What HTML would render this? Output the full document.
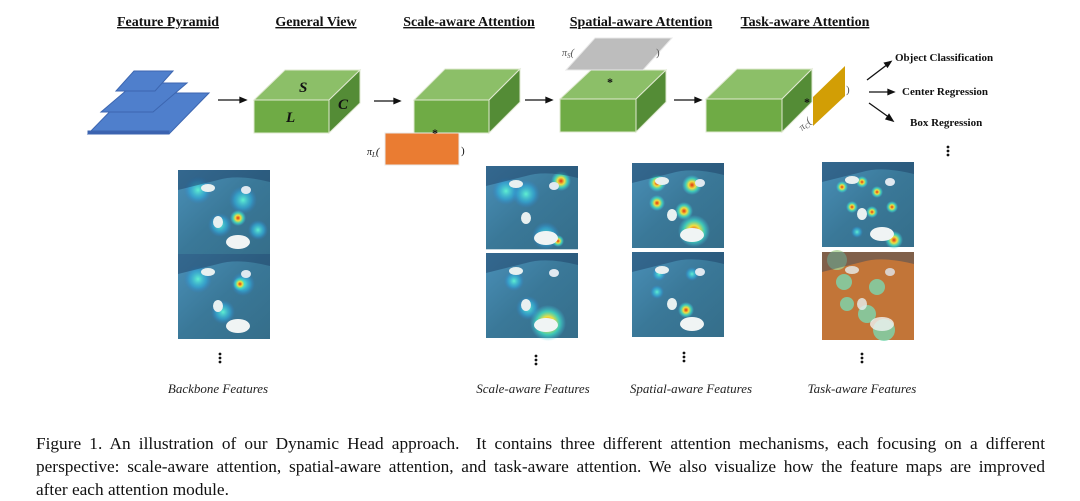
<!DOCTYPE html>
<html><head><meta charset="utf-8"><style>
html,body{margin:0;padding:0;background:#fff;width:1080px;height:500px;overflow:hidden}
svg{position:absolute;left:0;top:0}
.cap{position:absolute;left:36px;top:432px;width:1009px;font-family:"Liberation Serif",serif;font-size:17.3px;line-height:23px;color:#111}
.cap div{text-align:justify;text-align-last:justify;white-space:nowrap}
.cap div.l{text-align-last:left}
</style></head><body>
<svg width="1080" height="430" viewBox="0 0 1080 430" font-family="Liberation Serif, serif">
<defs>
<radialGradient id="hot"><stop offset="0" stop-color="#e03010"/><stop offset="0.35" stop-color="#f0e040"/><stop offset="0.65" stop-color="#40e0c0" stop-opacity="0.8"/><stop offset="1" stop-color="#40c0e0" stop-opacity="0"/></radialGradient>
<radialGradient id="cy"><stop offset="0" stop-color="#60f0d0"/><stop offset="0.6" stop-color="#30b0e0" stop-opacity="0.6"/><stop offset="1" stop-color="#3080d0" stop-opacity="0"/></radialGradient>
<linearGradient id="bg" x1="0" y1="0" x2="1" y2="1"><stop offset="0" stop-color="#4a90b8"/><stop offset="0.5" stop-color="#3a7898"/><stop offset="1" stop-color="#356e8a"/></linearGradient>
<g id="sheep">
<ellipse cx="30" cy="18" rx="7" ry="4" fill="#e8f0f0"/>
<ellipse cx="68" cy="20" rx="5" ry="4" fill="#e0e8f0"/>
<ellipse cx="40" cy="52" rx="5" ry="6" fill="#e8f0f0"/>
<ellipse cx="60" cy="72" rx="12" ry="7" fill="#f0f4f4"/>
<path d="M0 0 L92 0 L92 12 Q60 4 40 10 L0 20Z" fill="#1d3f66" opacity="0.5"/>
</g>
<g id="img"><rect width="92" height="85" fill="url(#bg)"/></g>
</defs>
<g font-weight="bold" font-size="14" text-decoration="underline" fill="#111" text-anchor="middle">
<text x="168" y="26">Feature Pyramid</text>
<text x="316" y="26">General View</text>
<text x="469" y="26">Scale-aware Attention</text>
<text x="641" y="26">Spatial-aware Attention</text>
<text x="805" y="26">Task-aware Attention</text>
</g>
<g fill="#4f7fcc" stroke="#3d66b0" stroke-width="1">
<polygon points="88,134 169,134 209,93 128,93"/>
<rect x="88" y="131" width="81" height="3" fill="#3b62b0"/>
<polygon points="101,112 153,112 187,83 135,83"/>
<polygon points="116,91 155,91 173,71 134,71"/>
</g>
<g stroke="#111" stroke-width="1.3" fill="#111">
<line x1="218" y1="100" x2="243" y2="100"/><polygon points="246,100 240,97.5 240,102.5"/>
<line x1="374" y1="101" x2="397" y2="101"/><polygon points="400,101 394,98.5 394,103.5"/>
<line x1="525" y1="100" x2="549" y2="100"/><polygon points="552,100 546,97.5 546,102.5"/>
<line x1="674" y1="100" x2="698" y2="100"/><polygon points="701,100 695,97.5 695,102.5"/>
<line x1="867" y1="80" x2="888" y2="64"/><polygon points="891,61.5 884.5,63 887.5,67"/>
<line x1="869" y1="92" x2="890" y2="92"/><polygon points="894,92 888,89.5 888,94.5"/>
<line x1="869" y1="103" x2="890" y2="118"/><polygon points="893,121 889,114.5 886,119"/>
</g>
<g stroke="#dfe8d0" stroke-width="1">
<polygon points="254,100 285,70 360,70 329,100" fill="#8cbf68"/>
<rect x="254" y="100" width="75" height="33" fill="#6fab45"/>
<polygon points="329,100 360,70 360,103 329,133" fill="#548c36"/>
<polygon points="414,100 445,69 520,69 489,100" fill="#8cbf68"/>
<rect x="414" y="100" width="75" height="33" fill="#6fab45"/>
<polygon points="489,100 520,69 520,102 489,133" fill="#548c36"/>
<polygon points="560,99 591,70 666,70 636,99" fill="#8cbf68"/>
<rect x="560" y="99" width="76" height="33" fill="#6fab45"/>
<polygon points="636,99 666,70 666,102 636,132" fill="#548c36"/>
<polygon points="706,99 737,69 812,69 782,99" fill="#8cbf68"/>
<rect x="706" y="99" width="76" height="33" fill="#6fab45"/>
<polygon points="782,99 812,69 812,102 782,132" fill="#548c36"/>
</g>
<g font-style="italic" font-weight="bold" font-size="15" fill="#111">
<text x="299" y="92">S</text><text x="286" y="122">L</text><text x="338" y="109">C</text>
</g>
<rect x="385" y="133" width="74" height="32" fill="#ea7c32" stroke="#e8e8e8"/>
<polygon points="566,70 595,38 672,38 643,70" fill="#bdbdbd" stroke="#e8e8e8"/>
<polygon points="813,97 845,66 845,96 813,126" fill="#d29e05"/>
<g fill="#111" font-size="12">
<text x="432" y="137" font-weight="bold">*</text>
<text x="607" y="86" font-weight="bold">*</text>
<text x="804" y="106" font-weight="bold">*</text>
<text x="367" y="155" font-size="10" font-style="italic">π<tspan font-size="7" dy="2">L</tspan><tspan dy="-2" font-size="11">(</tspan></text>
<text x="461" y="154" font-size="11">)</text>
<text x="562" y="56" font-size="10" font-style="italic" fill="#555">π<tspan font-size="7" dy="2">S</tspan><tspan dy="-2" font-size="11">(</tspan></text>
<text x="656" y="56" font-size="11" fill="#555">)</text>
<text x="846" y="93" font-size="11" fill="#555">)</text>
<text transform="translate(802,131) rotate(-40)" font-size="10" font-style="italic" fill="#555">π<tspan font-size="7" dy="2">C</tspan><tspan dy="-2" font-size="11">(</tspan></text>
</g>
<g font-weight="bold" font-size="11" fill="#111">
<text x="895" y="61">Object Classification</text>
<text x="902" y="95">Center Regression</text>
<text x="910" y="126">Box Regression</text>
</g>
<g transform="translate(178,170)"><use href="#img"/>
<circle cx="20" cy="20" r="14" fill="url(#cy)"/><circle cx="65" cy="30" r="14" fill="url(#cy)"/><circle cx="42" cy="55" r="12" fill="url(#cy)"/><circle cx="80" cy="60" r="10" fill="url(#cy)"/><circle cx="60" cy="48" r="8" fill="url(#hot)"/><use href="#sheep"/></g>
<g transform="translate(178,254)"><use href="#img"/>
<circle cx="20" cy="25" r="14" fill="url(#cy)"/><circle cx="65" cy="30" r="12" fill="url(#cy)"/><circle cx="45" cy="58" r="12" fill="url(#cy)"/><circle cx="62" cy="30" r="7" fill="url(#hot)"/><use href="#sheep"/></g>
<g transform="translate(486,166)"><use href="#img" transform="scale(1,0.98)"/>
<circle cx="20" cy="25" r="14" fill="url(#cy)"/><circle cx="40" cy="28" r="14" fill="url(#cy)"/><circle cx="75" cy="15" r="10" fill="url(#hot)"/><circle cx="60" cy="70" r="14" fill="url(#cy)"/><circle cx="72" cy="75" r="6" fill="url(#hot)"/><use href="#sheep"/></g>
<g transform="translate(486,253)"><use href="#img"/>
<circle cx="28" cy="28" r="10" fill="url(#cy)"/><circle cx="42" cy="55" r="12" fill="url(#cy)"/><circle cx="62" cy="70" r="18" fill="url(#hot)"/><use href="#sheep"/></g>
<g transform="translate(632,163)"><use href="#img"/>
<circle cx="25" cy="20" r="9" fill="url(#hot)"/><circle cx="60" cy="22" r="10" fill="url(#hot)"/><circle cx="25" cy="40" r="8" fill="url(#hot)"/><circle cx="52" cy="48" r="9" fill="url(#hot)"/><circle cx="62" cy="68" r="16" fill="url(#hot)"/><use href="#sheep"/></g>
<g transform="translate(632,252)"><use href="#img"/>
<circle cx="27" cy="22" r="7" fill="url(#cy)"/><circle cx="60" cy="22" r="7" fill="url(#cy)"/><circle cx="25" cy="40" r="7" fill="url(#cy)"/><circle cx="54" cy="58" r="8" fill="url(#hot)"/><use href="#sheep"/></g>
<g transform="translate(822,162)"><use href="#img"/>
<circle cx="20" cy="25" r="6" fill="url(#hot)"/><circle cx="40" cy="20" r="6" fill="url(#hot)"/><circle cx="55" cy="30" r="6" fill="url(#hot)"/><circle cx="30" cy="45" r="6" fill="url(#hot)"/><circle cx="50" cy="50" r="6" fill="url(#hot)"/><circle cx="70" cy="45" r="6" fill="url(#hot)"/><circle cx="35" cy="70" r="6" fill="url(#cy)"/><circle cx="72" cy="78" r="9" fill="url(#hot)"/><use href="#sheep"/></g>
<g transform="translate(822,252)"><rect width="92" height="88" fill="#c8873e"/><rect width="92" height="88" fill="#b85a30" opacity="0.4"/>
<circle cx="22" cy="30" r="8" fill="#7ad8b0" opacity="0.8"/><circle cx="55" cy="35" r="8" fill="#7ad8b0" opacity="0.8"/><circle cx="25" cy="52" r="7" fill="#7ad8b0" opacity="0.8"/><circle cx="45" cy="62" r="9" fill="#7ad8b0" opacity="0.8"/><circle cx="62" cy="78" r="11" fill="#7ad8b0" opacity="0.8"/><circle cx="15" cy="8" r="10" fill="#a8cf90" opacity="0.8"/><use href="#sheep" opacity="0.8"/></g>
<g fill="#111">
<circle cx="220" cy="354" r="1.4"/><circle cx="220" cy="358" r="1.4"/><circle cx="220" cy="362" r="1.4"/>
<circle cx="536" cy="356" r="1.4"/><circle cx="536" cy="360" r="1.4"/><circle cx="536" cy="364" r="1.4"/>
<circle cx="684" cy="353" r="1.4"/><circle cx="684" cy="357" r="1.4"/><circle cx="684" cy="361" r="1.4"/>
<circle cx="862" cy="354" r="1.4"/><circle cx="862" cy="358" r="1.4"/><circle cx="862" cy="362" r="1.4"/>
<circle cx="948" cy="147" r="1.4"/><circle cx="948" cy="151" r="1.4"/><circle cx="948" cy="155" r="1.4"/>
</g>
<g font-style="italic" font-size="13" fill="#222" text-anchor="middle">
<text x="218" y="393">Backbone Features</text>
<text x="533" y="393">Scale-aware Features</text>
<text x="691" y="393">Spatial-aware Features</text>
<text x="862" y="393">Task-aware Features</text>
</g>
</svg>
<div class="cap">
<div>Figure 1. An illustration of our Dynamic Head approach.&nbsp; It contains three different attention mechanisms, each focusing on a different</div>
<div>perspective: scale-aware attention, spatial-aware attention, and task-aware attention. We also visualize how the feature maps are improved</div>
<div class="l">after each attention module.</div>
</div>
</body></html>
